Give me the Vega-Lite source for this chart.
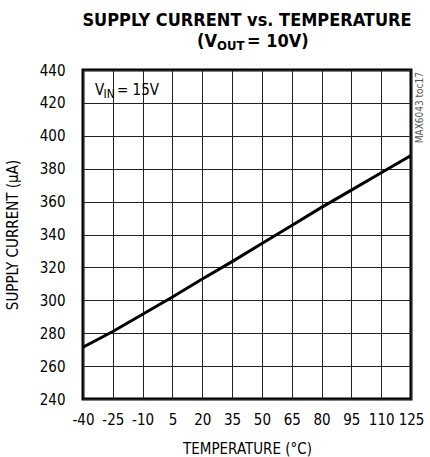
{
  "$schema": "https://vega.github.io/schema/vega-lite/v6.json",
  "width": 328,
  "height": 329,
  "autosize": {"type": "none"},
  "padding": {"left": 83, "top": 70, "right": 19, "bottom": 58},
  "background": "white",
  "config": {
    "view": {"stroke": "black", "strokeWidth": 3},
    "font": "DejaVu Sans Condensed, Liberation Sans Narrow, sans-serif",
    "axis": {
      "grid": true, "gridColor": "#222", "gridWidth": 1, "gridOpacity": 1,
      "ticks": false, "domain": false, "labelOverlap": false,
      "labelFont": "DejaVu Sans Condensed, Liberation Sans Narrow, sans-serif",
      "titleFont": "DejaVu Sans Condensed, Liberation Sans Narrow, sans-serif",
      "labelFontSize": 15, "titleFontSize": 15, "titleFontWeight": "normal",
      "labelColor": "black", "titleColor": "black"
    }
  },
  "title": {
    "text": "SUPPLY CURRENT vs. TEMPERATURE",
    "anchor": "middle", "frame": "group",
    "font": "DejaVu Sans Condensed, Liberation Sans Narrow, sans-serif",
    "fontSize": 18, "fontWeight": "bold", "color": "black", "offset": 3
  },
  "data": {
    "values": [
      {"temp": -40, "current": 271.5},
      {"temp": -25, "current": 281.0},
      {"temp": -10, "current": 291.5},
      {"temp": 5, "current": 302.0},
      {"temp": 20, "current": 313.0},
      {"temp": 35, "current": 323.5},
      {"temp": 50, "current": 334.5},
      {"temp": 65, "current": 345.5},
      {"temp": 80, "current": 356.5},
      {"temp": 95, "current": 367.0},
      {"temp": 110, "current": 377.5},
      {"temp": 125, "current": 388.0}
    ]
  },
  "layer": [
    {
      "mark": {"type": "line", "color": "black", "strokeWidth": 3, "clip": true},
      "encoding": {
        "x": {
          "field": "temp", "type": "quantitative",
          "scale": {"domain": [-40, 125], "nice": false, "zero": false},
          "axis": {
            "values": [-40, -25, -10, 5, 20, 35, 50, 65, 80, 95, 110, 125],
            "tickCount": 12,
            "labelExpr": "datum.value < 0 ? '-' + abs(datum.value) : '' + datum.value",
            "title": "TEMPERATURE (°C)", "labelPadding": 13, "titlePadding": 14,
            "labelFlush": false
          }
        },
        "y": {
          "field": "current", "type": "quantitative",
          "scale": {"domain": [240, 440], "nice": false, "zero": false},
          "axis": {
            "values": [240, 260, 280, 300, 320, 340, 360, 380, 400, 420, 440],
            "tickCount": 11,
            "title": "SUPPLY CURRENT (µA)", "labelPadding": 18, "titlePadding": 19,
            "labelFlush": false
          }
        }
      }
    },
    {
      "data": {"values": [{"t": "(V"}]},
      "mark": {"type": "text", "align": "left", "baseline": "alphabetic", "dx": -50, "dy": -23, "fontSize": 18, "fontWeight": "bold", "color": "black"},
      "encoding": {"x": {"datum": 42.5}, "y": {"datum": 440}, "text": {"field": "t"}}
    },
    {
      "data": {"values": [{"t": "OUT"}]},
      "mark": {"type": "text", "align": "left", "baseline": "alphabetic", "dx": -30, "dy": -20, "fontSize": 13, "fontWeight": "bold", "color": "black"},
      "encoding": {"x": {"datum": 42.5}, "y": {"datum": 440}, "text": {"field": "t"}}
    },
    {
      "data": {"values": [{"t": "= 10V)"}]},
      "mark": {"type": "text", "align": "left", "baseline": "alphabetic", "dx": 0, "dy": -23, "fontSize": 18, "fontWeight": "bold", "color": "black"},
      "encoding": {"x": {"datum": 42.5}, "y": {"datum": 440}, "text": {"field": "t"}}
    },
    {
      "data": {"values": [{"t": "V"}]},
      "mark": {"type": "text", "align": "left", "baseline": "alphabetic", "dx": 12, "dy": 25, "fontSize": 15, "color": "black"},
      "encoding": {"x": {"datum": -40}, "y": {"datum": 440}, "text": {"field": "t"}}
    },
    {
      "data": {"values": [{"t": "IN"}]},
      "mark": {"type": "text", "align": "left", "baseline": "alphabetic", "dx": 20.5, "dy": 27.5, "fontSize": 12, "color": "black"},
      "encoding": {"x": {"datum": -40}, "y": {"datum": 440}, "text": {"field": "t"}}
    },
    {
      "data": {"values": [{"t": "= 15V"}]},
      "mark": {"type": "text", "align": "left", "baseline": "alphabetic", "dx": 34, "dy": 25, "fontSize": 15, "color": "black"},
      "encoding": {"x": {"datum": -40}, "y": {"datum": 440}, "text": {"field": "t"}}
    },
    {
      "data": {"values": [{"t": "MAX6043 toc17"}]},
      "mark": {"type": "text", "align": "right", "baseline": "alphabetic", "angle": 270, "dx": -2, "dy": 12, "fontSize": 10, "color": "#555"},
      "encoding": {"x": {"datum": 125}, "y": {"datum": 440}, "text": {"field": "t"}}
    }
  ]
}
